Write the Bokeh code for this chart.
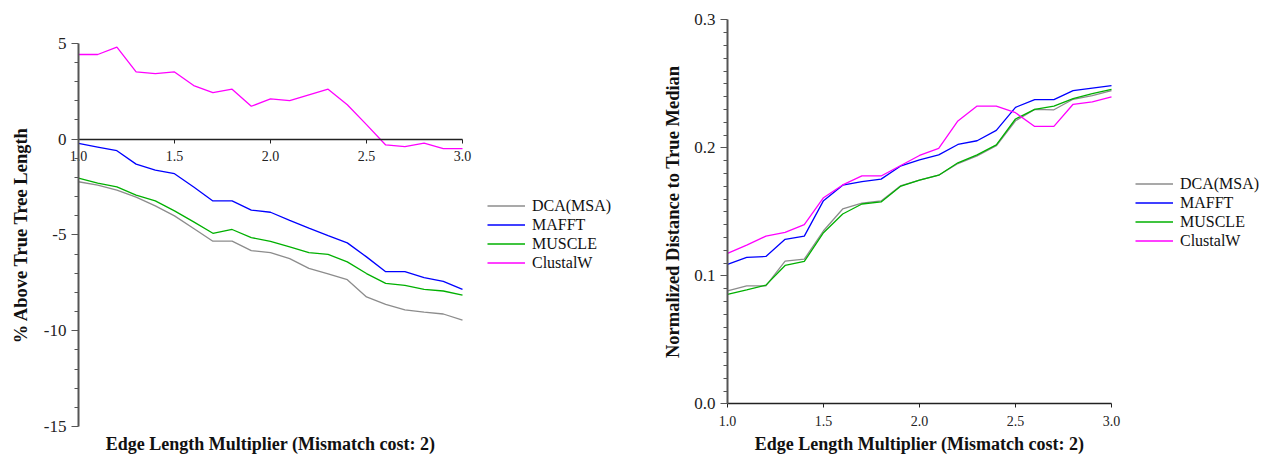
import math
from bokeh.plotting import figure
from bokeh.layouts import row
from bokeh.models import (FixedTicker, NumeralTickFormatter, Legend, LegendItem,
                          Range1d, LinearAxis, Label)
from bokeh.embed import file_html
from bokeh.resources import INLINE

x = [1.0, 1.1, 1.2, 1.3, 1.4, 1.5, 1.6, 1.7, 1.8, 1.9, 2.0,
     2.1, 2.2, 2.3, 2.4, 2.5, 2.6, 2.7, 2.8, 2.9, 3.0]

series = ["DCA(MSA)", "MAFFT", "MUSCLE", "ClustalW"]
colors = ["#8c8c8c", "#0000ff", "#00b000", "#ff00ff"]

# Left: % above true tree length
left_dca = [-2.23, -2.40, -2.67, -3.03, -3.49, -4.01, -4.67, -5.33, -5.33, -5.82, -5.93,
            -6.24, -6.75, -7.04, -7.34, -8.24, -8.63, -8.92, -9.03, -9.13, -9.45]
left_mafft = [-0.23, -0.42, -0.61, -1.31, -1.62, -1.81, -2.50, -3.23, -3.23, -3.71, -3.82,
              -4.24, -4.65, -5.04, -5.42, -6.15, -6.92, -6.92, -7.23, -7.43, -7.84]
left_muscle = [-2.04, -2.30, -2.50, -2.93, -3.23, -3.75, -4.32, -4.92, -4.72, -5.14, -5.34,
               -5.63, -5.93, -6.02, -6.41, -7.02, -7.53, -7.64, -7.84, -7.93, -8.14]
left_clustal = [4.41, 4.41, 4.79, 3.50, 3.41, 3.50, 2.79, 2.42, 2.60, 1.71, 2.09,
                2.00, 2.30, 2.60, 1.79, 0.75, -0.31, -0.40, -0.21, -0.50, -0.50]

# Right: normalized distance to true median
right_dca = [0.0883, 0.0922, 0.0922, 0.1115, 0.1130, 0.1352, 0.1522, 0.1567, 0.1585, 0.1702, 0.1747,
             0.1786, 0.1877, 0.1937, 0.2016, 0.2211, 0.2300, 0.2297, 0.2379, 0.2407, 0.2446]
right_mafft = [0.1090, 0.1144, 0.1151, 0.1285, 0.1310, 0.1587, 0.1708, 0.1736, 0.1755, 0.1856, 0.1906,
               0.1945, 0.2026, 0.2055, 0.2136, 0.2316, 0.2376, 0.2376, 0.2446, 0.2467, 0.2486]
right_muscle = [0.0854, 0.0890, 0.0927, 0.1081, 0.1112, 0.1337, 0.1483, 0.1561, 0.1577, 0.1698, 0.1747,
                0.1786, 0.1883, 0.1945, 0.2023, 0.2225, 0.2300, 0.2326, 0.2384, 0.2423, 0.2457]
right_clustal = [0.1175, 0.1240, 0.1310, 0.1340, 0.1400, 0.1610, 0.1710, 0.1780, 0.1780, 0.1860, 0.1940,
                 0.1995, 0.2210, 0.2326, 0.2326, 0.2274, 0.2167, 0.2167, 0.2340, 0.2358, 0.2397]

x_ticks = [1.0, 1.5, 2.0, 2.5, 3.0]
left_y_ticks = [-15, -10, -5, 0, 5]
left_y_minor = [v for v in range(-15, 6) if v % 5 != 0]
right_y_ticks = [0.0, 0.1, 0.2, 0.3]
right_y_minor = [i / 100 for i in range(0, 31) if i % 10 != 0]

x_title = "Edge Length Multiplier (Mismatch cost: 2)"
left_y_title = "% Above True Tree Length"
right_y_title = "Normalized Distance to True Median"

FONT = "Liberation Serif"
AXIS_COLOR = "#555555"
W, H = 636, 456


def make_y_axis(ticks, minor, fmt, loc, bounds):
    ax = LinearAxis(fixed_location=loc, bounds=bounds)
    ax.ticker = FixedTicker(ticks=ticks, minor_ticks=minor)
    ax.formatter = NumeralTickFormatter(format=fmt)
    ax.axis_line_color = AXIS_COLOR
    ax.axis_line_width = 2
    ax.major_tick_line_color = AXIS_COLOR
    ax.major_tick_line_width = 1.2
    ax.minor_tick_line_color = AXIS_COLOR
    ax.minor_tick_line_width = 1.2
    ax.major_tick_out = 7
    ax.major_tick_in = 0
    ax.minor_tick_out = 4
    ax.minor_tick_in = 0
    ax.major_label_text_font = FONT
    ax.major_label_text_font_size = "17px"
    ax.major_label_text_color = "#222222"
    ax.major_label_standoff = 5
    return ax


def make_x_axis(loc):
    ax = LinearAxis(fixed_location=loc, bounds=(1.0, 3.0))
    ax.ticker = FixedTicker(ticks=x_ticks, minor_ticks=[])
    ax.formatter = NumeralTickFormatter(format="0.0")
    ax.axis_line_color = "#222222"
    ax.axis_line_width = 1.5
    ax.major_tick_line_color = "#222222"
    ax.major_tick_out = 4
    ax.major_tick_in = 0
    ax.minor_tick_out = 0
    ax.major_label_text_font = FONT
    ax.major_label_text_font_size = "14px"
    ax.major_label_text_color = "#222222"
    ax.major_label_standoff = 8
    return ax


def make_fig(ys, px_x1, px_x3, px_ytop, px_ybot, y_top, y_bot, yticks, yminor, yfmt,
             ylabel, ylabel_x, x_axis_loc, legend_loc):
    # ranges so that the frame (the whole figure) maps data to the wanted pixels
    sx = (3.0 - 1.0) / (px_x3 - px_x1)
    sy = (y_top - y_bot) / (px_ybot - px_ytop)
    xr = Range1d(1.0 - px_x1 * sx, 3.0 + (W - px_x3) * sx)
    yr = Range1d(y_bot - (H - px_ybot) * sy, y_top + px_ytop * sy)
    p = figure(width=W, height=H, output_backend="svg", toolbar_location=None,
               x_range=xr, y_range=yr, x_axis_type=None, y_axis_type=None,
               title=None, min_border=0)
    p.outline_line_color = None
    p.background_fill_color = "white"
    p.border_fill_color = "white"
    p.add_layout(make_y_axis(yticks, yminor, yfmt, 1.0, (y_bot, y_top)), "left")
    p.add_layout(make_x_axis(x_axis_loc), "below")
    items = []
    for name, col, yv in zip(series, colors, ys):
        r = p.line(x, yv, line_color=col, line_width=1.3)
        items.append(LegendItem(label=name, renderers=[r]))
    leg = Legend(items=items, location=legend_loc, border_line_color=None,
                 background_fill_alpha=0, label_text_font=FONT,
                 label_text_font_size="16px", label_text_color="#111111",
                 glyph_width=38, glyph_height=19, label_height=19,
                 label_standoff=7, spacing=0, padding=0, margin=0)
    p.add_layout(leg)
    p.add_layout(Label(x=2.0, y=H - 443, y_units="screen", text=x_title,
                       text_align="center", text_baseline="middle",
                       text_font=FONT, text_font_style="bold",
                       text_font_size="18px", text_color="#111111"))
    p.add_layout(Label(x=ylabel_x, y=(y_top + y_bot) / 2, x_units="screen",
                       text=ylabel, angle=math.pi / 2,
                       text_align="center", text_baseline="middle",
                       text_font=FONT, text_font_style="bold",
                       text_font_size="18.5px", text_color="#111111"))
    return p


p1 = make_fig([left_dca, left_mafft, left_muscle, left_clustal],
              78, 462, 42.7, 426, 5, -15,
              left_y_ticks, left_y_minor, "0", left_y_title, 20, 0, (487, H - 272))
p2 = make_fig([right_dca, right_mafft, right_muscle, right_clustal],
              91, 475, 19.3, 403.3, 0.3, 0.0,
              right_y_ticks, right_y_minor, "0.0", right_y_title, 36, 0.0, (499, H - 250))

layout = row(p1, p2)
open("out.html", "w").write(file_html(layout, INLINE))
